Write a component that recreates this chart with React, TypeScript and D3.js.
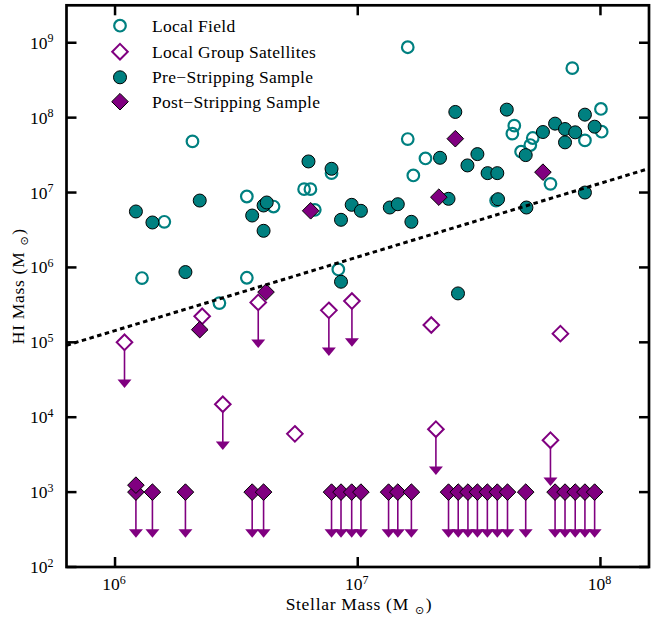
import React from "react";
import * as d3 from "d3";

// ---------- data (log10 solar masses) ----------
const xTickExps = [6, 7, 8];
const yTickExps = [2, 3, 4, 5, 6, 7, 8, 9];
const xDomainExp = [5.8, 8.2];
const yDomainExp = [2.0, 9.5];

const legendLabels = [
  "Local Field",
  "Local Group Satellites",
  "Pre\u2212Stripping Sample",
  "Post\u2212Stripping Sample",
];

// Local Field (open teal circles)
const localFieldLogMstar = [
  6.111, 6.203, 6.319, 6.43, 6.543, 6.543, 6.653, 6.779, 6.805, 6.823, 6.892, 6.92,
  7.206, 7.206, 7.229, 7.279, 7.57, 7.637, 7.645, 7.673, 7.711, 7.721, 7.794, 7.884,
  7.936, 8.002, 8.005,
];
const localFieldLogMHI = [
  5.858, 6.609, 7.683, 5.524, 6.947, 5.862, 6.813, 7.045, 7.045, 6.769, 7.259, 5.973,
  8.94, 7.714, 7.228, 7.455, 6.893, 7.786, 7.893, 7.545, 7.634, 7.728, 7.116, 8.661,
  7.696, 8.116, 7.812,
];

// Local Group satellites (open purple diamonds), upper-limit flag
const lgSatLogMstar = [6.039, 6.359, 6.59, 6.881, 6.976, 7.303, 7.835, 6.444, 6.741, 7.322, 7.794];
const lgSatLogMHI = [5.0, 5.347, 5.533, 5.427, 5.551, 5.231, 5.116, 4.173, 3.778, 3.84, 3.693];
const lgSatUpperLimit = [true, false, true, true, true, false, false, true, false, true, true];

// Pre-stripping sample (filled teal circles)
const preLogMstar = [
  6.086, 6.154, 6.29, 6.349, 6.565, 6.612, 6.625, 6.612, 6.797, 6.892, 6.931, 6.931,
  6.975, 7.013, 7.132, 7.165, 7.221, 7.339, 7.374, 7.402, 7.413, 7.452, 7.493, 7.535,
  7.575, 7.578, 7.614, 7.692, 7.695, 7.763, 7.813, 7.854, 7.854, 7.896, 7.936, 7.936,
  7.976,
];
const preLogMHI = [
  6.747, 6.6, 5.938, 6.893, 6.693, 6.827, 6.867, 6.489, 7.415, 7.317, 6.636, 5.809,
  6.836, 6.756, 6.8, 6.844, 6.609, 7.464, 6.916, 8.076, 5.653, 7.362, 7.513, 7.259,
  7.259, 6.911, 8.107, 7.5, 6.8, 7.808, 7.92, 7.848, 7.67, 7.804, 8.04, 7.0,
  7.879,
];

// Post-stripping sample (filled purple diamonds), upper-limit flag
const postLogMstar = [
  6.349, 6.622, 6.806, 7.334, 7.402, 7.763,
  6.086, 6.154, 6.29, 6.565, 6.612, 6.892, 6.931, 6.975, 7.013, 7.127, 7.165,
  7.221, 7.374, 7.414, 7.454, 7.493, 7.534, 7.575, 7.617, 7.692, 7.813, 7.854, 7.896,
  7.936, 7.976,
  6.086,
];
const postLogMHI = [
  5.169, 5.671, 6.756, 6.938, 7.719, 7.272,
  3.0, 3.0, 3.0, 3.0, 3.0, 3.0, 3.0, 3.0, 3.0, 3.0, 3.0,
  3.0, 3.0, 3.0, 3.0, 3.0, 3.0, 3.0, 3.0, 3.0, 3.0, 3.0, 3.0,
  3.0, 3.0,
  3.093,
];
const postUpperLimit = [
  false, false, false, false, false, false,
  true, true, true, true, true, true, true, true, true, true, true,
  true, true, true, true, true, true, true, true, true, true, true, true,
  true, true,
  false,
];

// dotted relation (two end points, log10)
const relationLogMstar = [5.8, 8.2];
const relationLogMHI = [4.96, 7.32];

const arrowDex = 0.55;

// ---------- styling ----------
const TEAL = "#008080";
const PURPLE = "#800080";
const FONT = "'Liberation Serif', 'Times New Roman', serif";

const W = 656;
const H = 622;
const frame = { left: 66.5, right: 649, top: 5.3, bottom: 567 };

export default function App() {
  const x = d3
    .scaleLog()
    .domain(xDomainExp.map((e) => 10 ** e))
    .range([frame.left, frame.right]);
  const y = d3
    .scaleLog()
    .domain(yDomainExp.map((e) => 10 ** e))
    .range([frame.bottom, frame.top]);
  const px = (e: number) => x(10 ** e);
  const py = (e: number) => y(10 ** e);

  const diamond = (cx: number, cy: number, r: number) =>
    `M${cx},${cy - r}L${cx + r},${cy}L${cx},${cy + r}L${cx - r},${cy}Z`;
  const triDown = (cx: number, cy: number) =>
    `M${cx - 7},${cy - 4}L${cx + 7},${cy - 4}L${cx},${cy + 4.5}Z`;

  const arrow = (m: number, h: number, key: string) => {
    const cx = px(m);
    const y0 = py(h);
    const y1 = py(h - arrowDex);
    return (
      <g key={key}>
        <line x1={cx} x2={cx} y1={y0} y2={y1} stroke={PURPLE} strokeWidth={1.6} />
        <path d={triDown(cx, y1)} fill={PURPLE} />
      </g>
    );
  };

  const relLine = d3
    .line<number>()
    .x((_, i) => px(relationLogMstar[i]))
    .y((d) => py(d))(relationLogMHI);

  const tickLen = 10;

  const legendX = 120;
  const legendTextX = 152;
  const legendY = [25.7, 51.7, 77.3, 101.7];

  return (
    <svg
      width={W}
      height={H}
      style={{ position: "absolute", left: 0, top: 0, background: "#fff" }}
      fontFamily={FONT}
    >
      <rect x={0} y={0} width={W} height={H} fill="#fff" />
      <defs>
        <clipPath id="plotClip">
          <rect
            x={frame.left}
            y={frame.top}
            width={frame.right - frame.left}
            height={frame.bottom - frame.top}
          />
        </clipPath>
      </defs>

      <g clipPath="url(#plotClip)">
        {/* Local Field */}
        {localFieldLogMstar.map((m, i) => (
          <circle
            key={"lf" + i}
            cx={px(m)}
            cy={py(localFieldLogMHI[i])}
            r={5.8}
            fill="none"
            stroke={TEAL}
            strokeWidth={2.2}
          />
        ))}
        {/* Local Group satellites */}
        {lgSatLogMstar.map((m, i) =>
          lgSatUpperLimit[i] ? arrow(m, lgSatLogMHI[i], "lga" + i) : null
        )}
        {lgSatLogMstar.map((m, i) => (
          <path
            key={"lg" + i}
            d={diamond(px(m), py(lgSatLogMHI[i]), 7.8)}
            fill="#fff"
            stroke={PURPLE}
            strokeWidth={2}
          />
        ))}
        {/* Pre-stripping */}
        {preLogMstar.map((m, i) => (
          <circle
            key={"pre" + i}
            cx={px(m)}
            cy={py(preLogMHI[i])}
            r={6.5}
            fill={TEAL}
            stroke="#000"
            strokeWidth={1}
          />
        ))}
        {/* Post-stripping */}
        {postLogMstar.map((m, i) =>
          postUpperLimit[i] ? arrow(m, postLogMHI[i], "pa" + i) : null
        )}
        {postLogMstar.map((m, i) => (
          <path
            key={"post" + i}
            d={diamond(px(m), py(postLogMHI[i]), 8.3)}
            fill={PURPLE}
            stroke="#000"
            strokeWidth={1}
          />
        ))}
        {/* dotted relation */}
        <path
          d={relLine || ""}
          fill="none"
          stroke="#000"
          strokeWidth={3}
          strokeDasharray="4.5 3.5"
        />
      </g>

      {/* frame */}
      <rect
        x={frame.left}
        y={frame.top}
        width={frame.right - frame.left}
        height={frame.bottom - frame.top}
        fill="none"
        stroke="#000"
        strokeWidth={2.7}
      />

      {/* x ticks */}
      {xTickExps.map((e) => {
        const xx = px(e);
        return (
          <g key={"xt" + e}>
            <line x1={xx} x2={xx} y1={frame.bottom} y2={frame.bottom - tickLen} stroke="#000" strokeWidth={2.5} />
            <line x1={xx} x2={xx} y1={frame.top} y2={frame.top + tickLen} stroke="#000" strokeWidth={2.5} />
            <text x={xx - 1} y={590} textAnchor="middle" fontSize={17.5} fill="#000">
              10
              <tspan fontSize={12} dy={-6.5}>
                {e}
              </tspan>
            </text>
          </g>
        );
      })}

      {/* y ticks */}
      {yTickExps.map((e) => {
        const yy = py(e);
        return (
          <g key={"yt" + e}>
            <line x1={frame.left} x2={frame.left + tickLen} y1={yy} y2={yy} stroke="#000" strokeWidth={2.5} />
            <line x1={frame.right} x2={frame.right - tickLen} y1={yy} y2={yy} stroke="#000" strokeWidth={2.5} />
            <text x={53.5} y={yy + 6} textAnchor="end" fontSize={17.5} fill="#000">
              10
              <tspan fontSize={12} dy={-6.5}>
                {e}
              </tspan>
            </text>
          </g>
        );
      })}

      {/* axis labels */}
      <text x={359} y={609.5} textAnchor="middle" fontSize={17.5} fill="#000" letterSpacing={0.7}>
        Stellar Mass (M
        <tspan dx={6} dy={4} fontSize={11} fontFamily="'DejaVu Sans'">
          {"\u2299"}
        </tspan>
        <tspan dx={1} dy={-4}>)</tspan>
      </text>
      <text
        transform={`translate(24,${(frame.top + frame.bottom) / 2}) rotate(-90)`}
        textAnchor="middle"
        fontSize={17.5}
        fill="#000"
        letterSpacing={0.7}
      >
        HI Mass (M
        <tspan dx={6} dy={4} fontSize={11} fontFamily="'DejaVu Sans'">
          {"\u2299"}
        </tspan>
        <tspan dx={1} dy={-4}>)</tspan>
      </text>

      {/* legend */}
      <g>
        <circle cx={legendX} cy={legendY[0]} r={5.8} fill="none" stroke={TEAL} strokeWidth={2.2} />
        <path d={diamond(legendX, legendY[1], 7.8)} fill="#fff" stroke={PURPLE} strokeWidth={2} />
        <circle cx={legendX} cy={legendY[2]} r={6.5} fill={TEAL} stroke="#000" strokeWidth={1} />
        <path d={diamond(legendX, legendY[3], 8.3)} fill={PURPLE} stroke="#000" strokeWidth={1} />
        {legendLabels.map((t, i) => (
          <text
            key={"lt" + i}
            x={legendTextX}
            y={legendY[i] + 6}
            fontSize={17.5}
            fill="#000"
            letterSpacing={0.3}
          >
            {t}
          </text>
        ))}
      </g>
    </svg>
  );
}
